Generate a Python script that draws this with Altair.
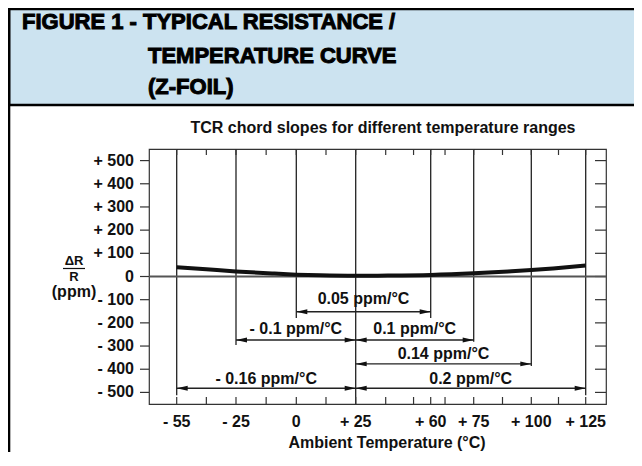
import altair as alt
import numpy as np
import pandas as pd

# ---------------- data ----------------
temps = [-55, -25, 0, 25, 60, 75, 100, 125]
temp_labels = ["- 55", "- 25", "0", "+ 25", "+ 60", "+ 75", "+ 100", "+ 125"]
guide_bottoms = [-512, -296, -179, -550, -179, -281, -386, -512]   # lower end of vertical guides (ppm)

minor_ticks = [-55, -40, -25, -12.5, 0, 12.5, 25, 39, 52, 60, 65, 75, 87.5, 100, 112.5, 125]
ppm_ticks = [-500, -400, -300, -200, -100, 0, 100, 200, 300, 400, 500]
ppm_labels = ["- 500", "- 400", "- 300", "- 200", "- 100", "0",
              "+ 100", "+ 200", "+ 300", "+ 400", "+ 500"]

curve_temp = [-55, -40, -25, -10, 0, 10, 25, 40, 60, 75, 90, 100, 110, 125]
curve_ppm = [40, 31, 22, 13, 8, 5, 3, 4, 7, 14, 22, 28, 35, 47]

arrow_from = [0, -25, 25, 25, -55, 25]
arrow_to = [60, 25, 75, 100, 25, 125]
arrow_level = [-152, -274, -274, -377, -482, -482]
label_level = [-97, -226, -226, -334, -442, -442]
arrow_text = ["0.05 ppm/°C", "- 0.1 ppm/°C", "0.1 ppm/°C", "0.14 ppm/°C",
              "- 0.16 ppm/°C", "0.2 ppm/°C"]

title_lines = ["FIGURE 1 - TYPICAL RESISTANCE /", "TEMPERATURE CURVE", "(Z-FOIL)"]
subtitle = "TCR chord slopes for different temperature ranges"
x_title = "Ambient Temperature (°C)"

# ---------------- layout ----------------
W, H = 457, 255
FONT = "Liberation Sans"
INK = "#111111"
# the reference's temperature axis is drawn non-uniformly: piecewise-linear scale
x_stops_px = [27.7, 87, 147.3, 206.7, 281.7, 324.7, 382.3, 436.7]
x_scale = alt.Scale(domain=temps, range=x_stops_px, nice=False, zero=False)
y_scale = alt.Scale(domain=[-550, 550], nice=False, zero=False)

# label anchor: the temperature that sits visually half-way between the arrow ends
_px = lambda t: np.interp(t, temps, x_stops_px)
label_temp = [float(np.interp((_px(a) + _px(b)) / 2, x_stops_px, temps))
              for a, b in zip(arrow_from, arrow_to)]


def X(field):
    return alt.X(field, scale=x_scale, axis=None)


def Y(field):
    return alt.Y(field, scale=y_scale, axis=None)


def txt(size, align="center", baseline="alphabetic"):
    return dict(font=FONT, fontWeight="bold", fontSize=size, align=align,
                baseline=baseline, color=INK)


one = pd.DataFrame({"k": [0]})

# header box
header = alt.Chart(one).mark_rect(fill="#cce3f0", stroke="black", strokeWidth=2.6).encode(
    x=alt.value(-140), x2=alt.value(W + 40), y=alt.value(-140), y2=alt.value(-44))
left_border = alt.Chart(one).mark_rule(color="black", strokeWidth=2.6).encode(
    x=alt.value(-140), y=alt.value(-140), y2=alt.value(H + 60))

title_df = pd.DataFrame({"t": title_lines})
title_x = [-127, -1, -1]
title_y = [-120, -86, -55]
title_layers = [
    alt.Chart(title_df.iloc[[i]]).mark_text(
        font=FONT, fontWeight="bold", fontSize=22, align="left", baseline="alphabetic",
        color="black", stroke="black", strokeWidth=1.0).encode(
        text="t:N", x=alt.value(title_x[i]), y=alt.value(title_y[i]))
    for i in range(3)
]

sub = alt.Chart(pd.DataFrame({"t": [subtitle]})).mark_text(**txt(16)).encode(
    text="t:N", x=alt.value(234), y=alt.value(-16))

# y-axis "ΔR / R (ppm)" label
frac_top = alt.Chart(pd.DataFrame({"t": ["ΔR"]})).mark_text(**txt(13)).encode(
    text="t:N", x=alt.value(-75), y=alt.value(116))
frac_bar = alt.Chart(one).mark_rule(color=INK, strokeWidth=1.2).encode(
    x=alt.value(-86), x2=alt.value(-64), y=alt.value(119.5))
frac_bot = alt.Chart(pd.DataFrame({"t": ["R"]})).mark_text(**txt(13)).encode(
    text="t:N", x=alt.value(-75), y=alt.value(132))
frac_ppm = alt.Chart(pd.DataFrame({"t": ["(ppm)"]})).mark_text(**txt(16, baseline="middle")).encode(
    text="t:N", x=alt.value(-75), y=alt.value(143))

# axis labels / ticks (drawn from the tick lists)
xl_df = pd.DataFrame({"t": temps, "lab": temp_labels})
x_labels = alt.Chart(xl_df).mark_text(**txt(16)).encode(
    x=X("t:Q"), y=alt.value(H + 23), text="lab:N")
x_ttl = alt.Chart(pd.DataFrame({"t": [x_title]})).mark_text(**txt(16)).encode(
    text="t:N", x=alt.value(238), y=alt.value(H + 44))

yl_df = pd.DataFrame({"p": ppm_ticks, "lab": ppm_labels})
y_labels = alt.Chart(yl_df).mark_text(**txt(16, align="right", baseline="middle")).encode(
    y=Y("p:Q"), x=alt.value(-15), text="lab:N")
left_ticks = alt.Chart(yl_df).mark_rule(color="#333", strokeWidth=1.2).encode(
    y=Y("p:Q"), x=alt.value(-9), x2=alt.value(0))
right_ticks = alt.Chart(yl_df).mark_rule(color="#333", strokeWidth=1.2).encode(
    y=Y("p:Q"), x=alt.value(W - 11), x2=alt.value(W))

mt_df = pd.DataFrame({"t": minor_ticks})
top_ticks = alt.Chart(mt_df).mark_rule(color="#333", strokeWidth=1.2).encode(
    x=X("t:Q"), y=alt.value(0), y2=alt.value(6))
bot_ticks = alt.Chart(mt_df).mark_rule(color="#333", strokeWidth=1.2).encode(
    x=X("t:Q"), y=alt.value(H - 7), y2=alt.value(H))

# zero line
zero = alt.Chart(pd.DataFrame({"y": [0]})).mark_rule(color="#555", strokeWidth=1.8).encode(
    y=Y("y:Q"), x=alt.value(0), x2=alt.value(W))

# vertical guides
guides_df = pd.DataFrame({"t": temps, "top": [550] * len(temps), "bottom": guide_bottoms})
guides = alt.Chart(guides_df).mark_rule(color="#222", strokeWidth=1.3).encode(
    x=X("t:Q"), y=Y("top:Q"), y2="bottom:Q")

# arrows
arr_df = pd.DataFrame({"a": arrow_from, "b": arrow_to, "lvl": arrow_level,
                       "lab": label_level, "mid": label_temp, "txt": arrow_text})
shafts = alt.Chart(arr_df).mark_rule(color="#222", strokeWidth=1.3).encode(
    x=X("a:Q"), x2="b:Q", y=Y("lvl:Q"))
head_l = alt.Chart(arr_df).mark_point(
    shape="M0,0 L2,-0.45 L2,0.45 Z", filled=True, size=121, color="#111", opacity=1,
    strokeWidth=0).encode(x=X("a:Q"), y=Y("lvl:Q"))
head_r = alt.Chart(arr_df).mark_point(
    shape="M0,0 L-2,-0.45 L-2,0.45 Z", filled=True, size=121, color="#111", opacity=1,
    strokeWidth=0).encode(x=X("b:Q"), y=Y("lvl:Q"))
labels = alt.Chart(arr_df).mark_text(**txt(16, baseline="middle")).encode(
    x=X("mid:Q"), y=Y("lab:Q"), text="txt:N")

# the resistance curve
curve = alt.Chart(pd.DataFrame({"t": curve_temp, "ppm": curve_ppm})).mark_line(
    color="#111", strokeWidth=4, interpolate="monotone").encode(x=X("t:Q"), y=Y("ppm:Q"))

chart = alt.layer(
    header, left_border, *title_layers, sub, frac_top, frac_bar, frac_bot, frac_ppm,
    guides, left_ticks, right_ticks, top_ticks, bot_ticks, x_labels, x_ttl, y_labels,
    zero, shafts, head_l, head_r, labels, curve
).properties(
    width=W, height=H,
    autosize=alt.AutoSizeParams(type="none"),
    padding={"left": 141, "top": 141, "right": 28, "bottom": 48},
    background="white",
).configure_view(stroke="#333", strokeWidth=1.2)

chart.save("out.html", embed_options={"renderer": "svg", "actions": False})
